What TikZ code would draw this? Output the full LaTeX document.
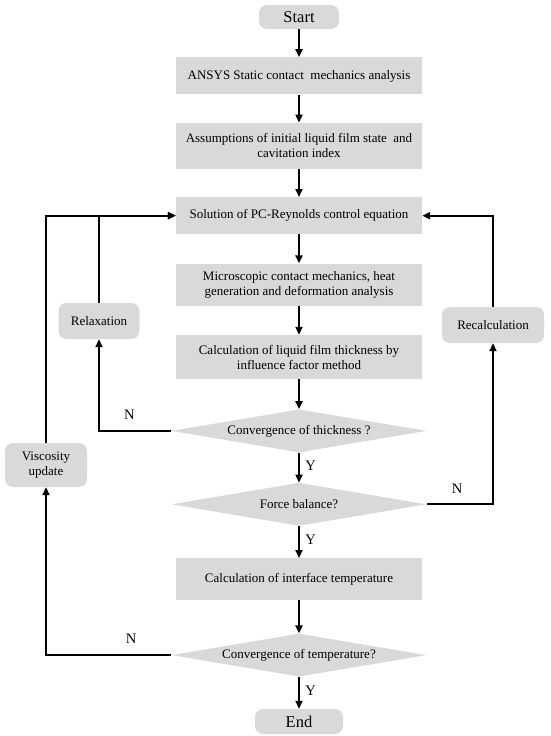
\documentclass[tikz,border=0pt]{standalone}
\usepackage{fontspec}
\setmainfont{Liberation Serif}
\usetikzlibrary{positioning,arrows.meta,shapes.geometric}
\definecolor{boxgray}{RGB}{217,217,217}

\begin{document}
\begin{tikzpicture}[
  x=1pt, y=1pt,
  box/.style={fill=boxgray, align=center, minimum width=246pt, inner sep=2pt, font=\fontsize{13}{15}\selectfont},
  term/.style={fill=boxgray, rounded corners=8pt, align=center, font=\fontsize{16.5}{18}\selectfont},
  side/.style={fill=boxgray, rounded corners=8pt, align=center, minimum height=36pt, font=\fontsize{13}{15}\selectfont},
  decision/.style={diamond, fill=boxgray, aspect=6, inner sep=0pt, minimum width=255pt, minimum height=43pt, font=\fontsize{13}{15}\selectfont},
  arrow/.style={-{Triangle[length=8pt,width=7pt]}, line width=1.9pt},
  yn/.style={font=\fontsize{14.5}{16}\selectfont}
]
\useasboundingbox (0,0) rectangle (550,-736);
\node[term, minimum width=80pt, minimum height=24pt] (start) at (299,-17) {Start};
\node[box, minimum height=37pt, below=28pt of start] (ansys) {ANSYS Static contact\ \ mechanics analysis};
\node[box, minimum height=46pt, below=28pt of ansys] (assume) {Assumptions of initial liquid film state\ \ and\\cavitation index};
\node[box, minimum height=37pt, below=28pt of assume] (sol) {Solution of PC-Reynolds control equation};
\node[box, minimum height=42pt, below=29pt of sol] (micro) {Microscopic contact mechanics, heat\\generation and deformation analysis};
\node[box, minimum height=44pt, below=29pt of micro] (film) {Calculation of liquid film thickness by\\influence factor method};
\node[decision, below=30pt of film] (thick) {Convergence of thickness ?};
\node[decision, below=30pt of thick] (force) {Force balance?};
\node[box, minimum height=42pt, below=32pt of force] (temp) {Calculation of interface temperature};
\node[decision, below=33pt of temp] (tconv) {Convergence of temperature?};
\node[term, minimum width=88pt, minimum height=25pt, below=32pt of tconv] (end) {End};

\node[side, minimum width=81pt] (relax) at (99,-321) {Relaxation};
\node[side, minimum width=102pt] (recalc) at (493,-325) {Recalculation};
\node[side, minimum width=82pt, minimum height=44pt] (visc) at (46,-465) {Viscosity\\update};

\draw[arrow] (start) -- (ansys);
\draw[arrow] (ansys) -- (assume);
\draw[arrow] (assume) -- (sol);
\draw[arrow] (sol) -- (micro);
\draw[arrow] (micro) -- (film);
\draw[arrow] (film) -- (thick);
\draw[arrow] (thick) -- node[yn, right, xshift=2pt, yshift=2pt]{Y} (force);
\draw[arrow] (force) -- node[yn, right, xshift=2pt, yshift=2pt]{Y} (temp);
\draw[arrow] (temp) -- (tconv);
\draw[arrow] (tconv) -- node[yn, right, xshift=2pt, yshift=2pt]{Y} (end);

\draw[arrow] (thick.west) -| node[yn, above, pos=0.29, yshift=7pt]{N} (relax.south);
\draw[arrow] (relax.north) |- (sol.west);
\draw[arrow] (force.east) -| node[yn, above, pos=0.23, yshift=7pt]{N} (recalc.south);
\draw[arrow] (recalc.north) |- (sol.east);
\draw[arrow] (tconv.west) -| node[yn, above, pos=0.16, yshift=7pt]{N} (visc.south);
\draw[arrow] (visc.north) |- (sol.west);
\end{tikzpicture}
\end{document}
